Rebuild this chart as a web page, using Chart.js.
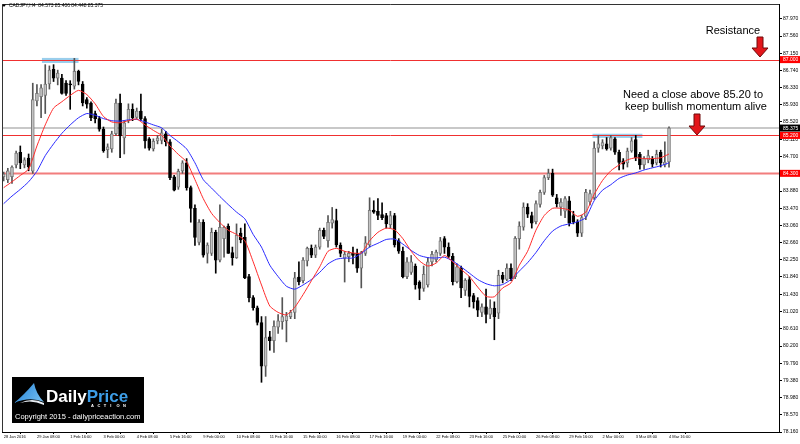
<!DOCTYPE html>
<html lang="en">
<head>
<meta charset="utf-8" />
<title>CADJPY H4</title>
<script src="https://cdn.jsdelivr.net/npm/chart.js@4.4.1/dist/chart.umd.min.js"></script>
<style>
  html, body { margin: 0; padding: 0; background: #fff; }
</style>
</head>
<body>
<canvas id="cadjpy" width="800" height="444"></canvas>
<script>
// H4 candles, 28 Jan 2016 00:00 .. 4 Mar 2016 16:00 (one value per bar)
var opens = [84.22,84.15,84.22,84.50,84.80,84.50,84.66,84.35,86.02,86.12,
  86.15,86.42,86.77,86.56,86.56,86.44,86.42,86.37,86.72,86.42,
  86.05,85.97,85.72,85.60,85.35,84.86,84.88,85.24,85.97,85.14,
  85.55,85.82,85.63,85.78,85.60,85.12,84.88,85.07,85.08,85.24,
  85.05,84.22,83.97,84.36,84.55,83.96,83.47,82.66,83.14,82.40,
  82.40,82.90,82.24,82.75,83.05,82.42,82.30,82.88,82.78,81.85,
  81.35,81.11,80.76,79.72,80.42,80.33,80.65,80.78,80.80,80.90,
  81.00,81.84,81.75,82.22,82.52,82.36,82.55,82.95,82.70,83.12,
  83.18,82.60,82.28,82.32,82.40,82.40,82.05,82.40,82.60,83.43,
  83.40,83.32,83.30,83.08,83.30,82.70,82.45,81.85,81.95,82.10,
  81.72,81.57,81.65,82.20,82.25,82.40,82.75,82.55,82.33,81.73,
  82.05,81.52,81.78,81.40,81.28,81.00,81.13,80.95,81.10,80.98,
  81.88,81.78,82.05,81.85,82.75,83.02,83.50,83.30,83.15,83.56,
  83.85,84.20,84.30,83.72,83.50,83.40,83.65,83.30,83.15,82.88,
  83.28,83.62,83.72,84.90,84.95,85.00,84.90,85.12,84.80,84.60,
  84.55,84.83,85.10,84.75,84.50,84.62,84.65,84.55,84.80,84.50,
  84.573];
var highs = [84.33,84.42,84.48,84.83,84.95,84.67,84.76,86.44,86.41,86.41,
  86.88,86.85,86.88,86.75,86.65,86.50,86.50,87.03,86.75,86.48,
  86.10,86.00,85.78,85.65,85.40,85.00,85.30,86.06,86.18,85.55,
  85.95,85.95,85.85,86.18,85.65,85.15,85.12,85.20,85.35,85.30,
  85.10,84.25,84.40,84.60,84.65,84.00,83.55,83.20,83.20,82.65,
  83.00,82.95,83.55,83.05,83.10,82.55,83.10,83.00,83.10,81.90,
  81.40,81.15,80.90,80.90,80.55,80.80,80.95,81.35,81.00,81.05,
  81.95,82.20,82.30,82.55,82.60,82.60,83.00,83.00,83.30,83.49,
  83.45,82.65,82.45,82.45,82.55,82.50,82.45,82.80,83.72,83.65,
  83.70,83.60,83.35,83.40,83.35,82.75,82.55,82.30,82.35,82.15,
  81.75,82.10,82.30,82.45,82.48,82.78,82.80,82.65,82.40,82.15,
  82.10,81.80,81.85,81.45,81.35,81.20,81.55,81.30,81.25,82.00,
  81.95,82.15,82.15,82.80,83.15,83.60,83.58,83.38,83.65,83.90,
  84.25,84.40,84.40,83.80,83.70,83.75,83.75,83.40,83.20,83.30,
  83.92,83.90,85.05,85.20,85.10,85.15,85.20,85.15,84.85,84.65,
  84.90,85.15,85.20,84.80,84.70,84.85,84.70,84.85,84.85,85.05,
  85.406];
var lows = [84.12,84.08,84.06,84.43,84.41,84.43,84.36,84.30,85.90,85.62,
  85.72,86.30,86.48,86.40,86.18,86.15,85.82,86.30,86.40,85.90,
  85.85,85.55,85.50,85.30,84.80,84.67,84.80,85.20,84.67,84.76,
  85.50,85.55,85.60,85.55,84.90,84.85,84.83,85.00,85.00,84.95,
  84.15,83.88,83.92,84.30,83.90,83.14,82.59,82.60,82.31,82.17,
  82.35,81.93,82.20,82.31,82.40,82.12,82.28,82.65,81.80,81.25,
  81.05,80.70,79.34,79.48,80.10,80.05,80.50,80.60,80.30,80.85,
  80.85,81.65,81.70,82.10,82.30,82.30,82.50,82.75,82.55,83.00,
  82.55,82.32,81.72,82.20,82.15,81.95,81.58,82.35,82.55,83.35,
  83.20,83.20,83.00,83.00,82.55,82.40,81.82,81.80,81.90,81.55,
  81.30,81.50,81.60,82.10,82.20,82.35,82.40,82.30,81.65,81.70,
  81.35,81.40,81.13,81.10,80.90,80.90,80.75,80.85,80.35,80.85,
  81.70,81.75,81.75,81.80,82.50,82.95,83.25,83.00,83.10,83.50,
  83.80,84.15,83.75,83.50,83.30,83.25,83.05,83.10,82.80,82.80,
  83.20,83.55,83.68,84.80,84.88,84.85,84.85,84.75,84.38,84.40,
  84.45,84.80,84.60,84.40,84.40,84.55,84.45,84.50,84.45,84.45,
  84.448];
var closes = [84.28,84.36,84.45,84.78,84.55,84.62,84.46,86.05,86.20,86.33,
  86.42,86.75,86.56,86.68,86.20,86.20,86.40,86.72,86.48,85.97,
  85.94,85.62,85.60,85.35,84.84,84.93,85.24,85.97,85.19,85.50,
  85.82,85.62,85.78,85.60,85.07,84.90,85.06,85.14,85.26,85.05,
  84.20,83.90,84.35,84.55,83.96,83.47,82.78,83.14,82.36,82.60,
  82.90,82.24,83.02,83.02,82.40,82.30,82.83,82.72,81.82,81.35,
  81.11,80.76,79.72,80.40,80.33,80.67,80.80,80.90,80.92,81.00,
  81.82,81.72,82.24,82.52,82.36,82.55,82.95,82.80,83.14,83.20,
  82.60,82.40,82.38,82.40,82.35,82.05,82.42,82.65,83.42,83.38,
  83.30,83.25,83.10,83.30,82.60,82.45,81.85,82.20,82.20,81.65,
  81.57,81.90,82.20,82.38,82.43,82.70,82.55,82.33,81.73,82.08,
  81.58,81.76,81.38,81.25,81.05,81.13,80.95,81.10,80.90,81.88,
  81.78,82.05,81.80,82.76,83.05,83.50,83.33,83.12,83.58,83.85,
  84.20,84.30,83.78,83.58,83.62,83.70,83.12,83.15,82.88,83.25,
  83.85,83.82,84.90,85.00,85.03,84.88,85.15,84.80,84.56,84.52,
  84.83,85.07,84.67,84.50,84.65,84.72,84.52,84.75,84.55,84.57,
  85.375];

// moving averages, read every 2nd bar (bar 0, 2, 4 ...)
var redMA = [83.96,84.10,84.25,84.40,84.95,85.45,85.85,86.00,86.15,86.27,
  86.17,85.95,85.65,85.52,85.50,85.55,85.59,85.45,85.32,85.20,
  84.95,84.75,84.57,84.15,83.70,83.35,83.13,82.95,82.85,82.70,
  82.20,81.65,81.15,81.00,80.94,81.12,81.42,81.75,82.08,82.45,
  82.52,82.45,82.41,82.41,82.70,82.90,83.00,82.96,82.75,82.45,
  82.22,82.10,82.17,82.35,82.20,82.02,81.85,81.60,81.38,81.37,
  81.58,81.70,82.12,82.45,82.95,83.30,83.47,83.47,83.43,83.28,
  83.38,83.80,84.13,84.36,84.50,84.62,84.67,84.65,84.65,84.67,
  84.76];
var blueMA = [83.58,83.76,83.92,84.10,84.35,84.72,85.00,85.25,85.45,85.62,
  85.72,85.68,85.60,85.55,85.54,85.57,85.58,85.52,85.45,85.38,
  85.20,85.05,84.88,84.55,84.15,83.95,83.75,83.56,83.38,83.22,
  82.85,82.55,82.12,81.85,81.62,81.55,81.65,81.78,81.95,82.15,
  82.26,82.29,82.29,82.40,82.55,82.64,82.73,82.74,82.62,82.47,
  82.35,82.30,82.29,82.31,82.22,82.08,81.93,81.78,81.68,81.63,
  81.66,81.78,81.98,82.18,82.42,82.70,82.93,83.05,83.10,83.15,
  83.25,83.65,83.90,84.03,84.18,84.26,84.31,84.38,84.43,84.48,
  84.55];

// horizontal levels and current bid
var levels = [87.000, 85.200, 84.300];
var bid = 85.375;

// axis tick labels (one x label every 8 bars)
var xTickLabels = ["28 Jan 2016","29 Jan 08:00","1 Feb 16:00","3 Feb 00:00","4 Feb 08:00",
  "5 Feb 16:00","9 Feb 00:00","10 Feb 08:00","11 Feb 16:00","15 Feb 00:00","16 Feb 08:00",
  "17 Feb 16:00","19 Feb 00:00","22 Feb 08:00","23 Feb 16:00","25 Feb 00:00","26 Feb 08:00",
  "29 Feb 16:00","2 Mar 00:00","3 Mar 08:00","4 Mar 16:00"];
var yTickValues = [87.970,87.560,87.150,86.740,86.330,85.930,85.520,85.110,84.700,84.290,
  83.880,83.470,83.060,82.660,82.250,81.840,81.430,81.020,80.610,80.200,
  79.790,79.380,78.980,78.570,78.160];

function bull(i) { return closes[i] >= opens[i]; }

var wickData = highs.map(function (h, i) { return { x: i, y: [lows[i], h] }; });
var bodyData = opens.map(function (o, i) { return { x: i, y: [o, closes[i]] }; });
var redData = redMA.map(function (v, k) { return { x: k * 2, y: v }; });
var blueData = blueMA.map(function (v, k) { return { x: k * 2, y: v }; });

function downArrow(ctx, cx, top, h) {
    var shaftW = 6, headW = 16, headH = 9;
    ctx.beginPath();
    ctx.moveTo(cx - shaftW / 2, top);
    ctx.lineTo(cx + shaftW / 2, top);
    ctx.lineTo(cx + shaftW / 2, top + h - headH);
    ctx.lineTo(cx + headW / 2, top + h - headH);
    ctx.lineTo(cx, top + h);
    ctx.lineTo(cx - headW / 2, top + h - headH);
    ctx.lineTo(cx - shaftW / 2, top + h - headH);
    ctx.closePath();
    ctx.fillStyle = '#e3161b';
    ctx.fill();
    ctx.strokeStyle = '#6e0b0b';
    ctx.lineWidth = 1;
    ctx.stroke();
}

var decor = {
    id: 'decor',
    beforeDraw: function (chart) {
        var ctx = chart.ctx;
        ctx.save();
        ctx.fillStyle = '#fff';
        ctx.fillRect(0, 0, chart.width, chart.height);
        ctx.restore();
    },
    beforeDatasetsDraw: function (chart) {
        var ctx = chart.ctx, a = chart.chartArea;
        var xs = chart.scales.x, ys = chart.scales.y;
        ctx.save();
        // highlighted highs
        ctx.fillStyle = 'rgba(120,190,230,0.75)';
        [[9.2, 18.0, 87.04, 86.92], [141.6, 153.6, 85.24, 85.14]].forEach(function (z) {
            var x0 = xs.getPixelForValue(z[0]), x1 = xs.getPixelForValue(z[1]);
            var y0 = ys.getPixelForValue(z[2]), y1 = ys.getPixelForValue(z[3]);
            ctx.fillRect(x0, y0, x1 - x0, y1 - y0);
        });
        // bid line
        var yb = ys.getPixelForValue(bid);
        ctx.strokeStyle = '#c8c8c8';
        ctx.lineWidth = 2;
        ctx.beginPath(); ctx.moveTo(a.left, yb); ctx.lineTo(a.right, yb); ctx.stroke();
        // levels
        levels.forEach(function (v, k) {
            var y = Math.round(ys.getPixelForValue(v)) + 0.5;
            ctx.strokeStyle = k === 2 ? '#f27d7d' : '#f03030';
            ctx.lineWidth = k === 2 ? 2 : 1;
            ctx.beginPath(); ctx.moveTo(a.left, y); ctx.lineTo(a.right, y); ctx.stroke();
        });
        ctx.restore();
    },
    afterDraw: function (chart) {
        var ctx = chart.ctx, a = chart.chartArea, ys = chart.scales.y;
        ctx.save();
        // frame
        ctx.strokeStyle = '#333';
        ctx.lineWidth = 1;
        ctx.beginPath();
        ctx.moveTo(a.left + 0.5, a.bottom); ctx.lineTo(a.left + 0.5, a.top + 0.5); ctx.lineTo(a.right, a.top + 0.5);
        ctx.stroke();

        // price boxes on the axis
        ctx.font = '5px "Liberation Sans", Arial, sans-serif';
        ctx.textBaseline = 'middle';
        ctx.textAlign = 'left';
        var boxes = [[levels[0], '#ff0000'], [bid, '#000000'], [levels[1], '#ff0000'], [levels[2], '#ff0000']];
        boxes.forEach(function (b) {
            var y = ys.getPixelForValue(b[0]);
            ctx.fillStyle = b[1];
            ctx.fillRect(a.right + 1, y - 3.5, 20, 7);
            ctx.fillStyle = '#fff';
            ctx.fillText(b[0].toFixed(3), a.right + 4, y + 0.3);
        });

        // header
        ctx.fillStyle = '#000';
        ctx.beginPath(); ctx.moveTo(2, 4.5); ctx.lineTo(6, 4.5); ctx.lineTo(4, 7); ctx.closePath(); ctx.fill();
        ctx.font = '5px "Liberation Sans", Arial, sans-serif';
        ctx.fillText('CADJPY,H4  84.573 85.406 84.448 85.375', 9, 6, 94);

        // notes
        ctx.font = '11px "Liberation Sans", Arial, sans-serif';
        ctx.textAlign = 'center';
        ctx.fillStyle = '#000';
        ctx.fillText('Resistance', 733, 31);
        ctx.fillText('Need a close above 85.20 to', 693, 95);
        ctx.fillText('keep bullish momentum alive', 696, 107);
        downArrow(ctx, 760, 37, 20);
        downArrow(ctx, 697, 114, 21);

        // logo
        ctx.fillStyle = '#000';
        ctx.fillRect(12, 377, 132, 46);
        var g = ctx.createLinearGradient(14, 383, 44, 404);
        g.addColorStop(0, '#1f7fd6');
        g.addColorStop(1, '#7cc4f2');
        ctx.fillStyle = g;
        ctx.beginPath();
        ctx.moveTo(14, 403);
        ctx.quadraticCurveTo(24, 395, 34, 383);
        ctx.quadraticCurveTo(36, 394, 44, 402);
        ctx.quadraticCurveTo(30, 396, 14, 403);
        ctx.fill();
        ctx.fillStyle = '#e8eef4';
        ctx.beginPath();
        ctx.moveTo(20, 403);
        ctx.quadraticCurveTo(32, 397, 44, 403);
        ctx.lineTo(44, 405);
        ctx.quadraticCurveTo(32, 399, 20, 403);
        ctx.fill();
        ctx.textAlign = 'left';
        ctx.textBaseline = 'alphabetic';
        ctx.font = 'bold 17px "Liberation Sans", Arial, sans-serif';
        ctx.fillStyle = '#fff';
        ctx.fillText('Daily', 46, 402);
        var wd = ctx.measureText('Daily').width;
        ctx.fillStyle = '#3d9de6';
        ctx.fillText('Price', 46 + wd, 402);
        ctx.font = 'bold 4px "Liberation Sans", Arial, sans-serif';
        ctx.fillStyle = '#fff';
        'ACTION'.split('').forEach(function (c, k) { ctx.fillText(c, 91 + k * 6.4, 407); });
        ctx.font = '7.5px "Liberation Sans", Arial, sans-serif';
        ctx.fillText('Copyright 2015 - dailypriceaction.com', 15, 419, 126);
        ctx.restore();
    }
};

var ctx = document.getElementById('cadjpy').getContext('2d');
var chart = new Chart(ctx, {
    type: 'bar',
    data: {
        datasets: [
            { type: 'line', data: redData, borderColor: '#ff2b2b', borderWidth: 1, pointRadius: 0, tension: 0.2, order: 0 },
            { type: 'line', data: blueData, borderColor: '#2b2bff', borderWidth: 1, pointRadius: 0, tension: 0.2, order: 0 },
            {
                data: bodyData, barThickness: 3, minBarLength: 1, grouped: false, order: 1,
                borderSkipped: false, borderWidth: 1,
                backgroundColor: function (c) { return c.dataIndex !== undefined && !bull(c.dataIndex) ? '#000' : '#c4c4c4'; },
                borderColor: function (c) { return c.dataIndex !== undefined && !bull(c.dataIndex) ? '#000' : '#7a7a7a'; }
            },
            {
                data: wickData, barThickness: 1, grouped: false, order: 2, borderWidth: 0,
                backgroundColor: function (c) { return c.dataIndex !== undefined && !bull(c.dataIndex) ? '#000' : '#555'; }
            }
        ]
    },
    options: {
        responsive: false,
        animation: false,
        layout: { padding: { top: 2, left: 2, right: 0, bottom: 0 } },
        plugins: { legend: { display: false }, tooltip: { enabled: false } },
        scales: {
            x: {
                type: 'linear', position: 'bottom', min: -0.4, max: 186.45, offset: false,
                afterBuildTicks: function (s) { s.ticks = xTickLabels.map(function (t, k) { return { value: k * 8 }; }); },
                afterFit: function (s) { s.height = 12; },
                ticks: {
                    autoSkip: false, maxRotation: 0, minRotation: 0, align: 'start', padding: 0,
                    color: '#000', font: { family: '"Liberation Sans", Arial, sans-serif', size: 4 },
                    callback: function (v) { return xTickLabels[Math.round(v / 8)]; }
                },
                grid: { drawOnChartArea: false, tickLength: 2, color: '#000' },
                border: { color: '#000', width: 1 }
            },
            y: {
                type: 'linear', position: 'right', min: 78.16, max: 88.32,
                afterBuildTicks: function (s) { s.ticks = yTickValues.map(function (v) { return { value: v }; }); },
                afterFit: function (s) { s.width = 21; },
                ticks: {
                    autoSkip: false, padding: 1, color: '#000',
                    font: { family: '"Liberation Sans", Arial, sans-serif', size: 5 },
                    callback: function (v) { return v.toFixed(3); }
                },
                grid: { drawOnChartArea: false, tickLength: 3, color: '#000' },
                border: { color: '#000', width: 1 }
            }
        }
    },
    plugins: [decor]
});
</script>
</body>
</html>
